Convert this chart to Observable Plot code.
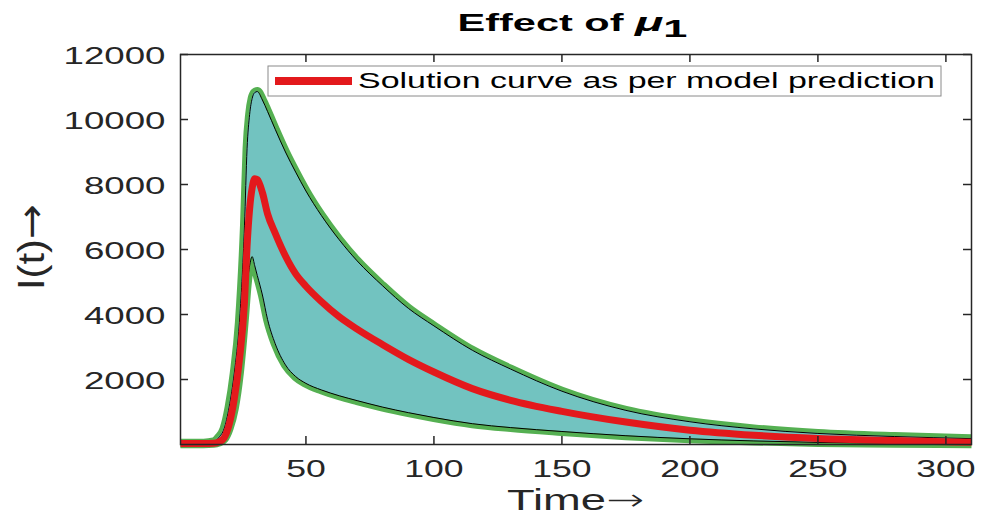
<!DOCTYPE html>
<html><head><meta charset="utf-8">
<script src="https://cdn.jsdelivr.net/npm/d3@7"></script>
<script src="https://cdn.jsdelivr.net/npm/@observablehq/plot@0.6"></script>
<style>body{margin:0;background:#fff;} svg{display:block}</style>
</head><body><div id="chart"></div>
<script>
// ---- data ----
const time = [1, 10, 14, 16, 18, 20, 22, 24, 26, 27, 28, 29, 30, 31, 33, 35, 38, 42, 46, 50, 56, 63, 70, 80, 90, 100, 115, 130, 150, 175, 200, 225, 250, 280, 310];
const upperBound = [40, 40, 80, 220, 480, 1150, 2200, 3750, 6750, 9100, 10150, 10650, 10830, 10860, 10600, 10250, 9700, 9000, 8380, 7800, 7050, 6300, 5650, 4880, 4190, 3650, 2900, 2320, 1640, 1050, 700, 480, 340, 245, 180];
const modelSolution = [30, 30, 40, 80, 200, 620, 1400, 2600, 4400, 6100, 7250, 7900, 8180, 8150, 7750, 7100, 6500, 5800, 5250, 4870, 4400, 3930, 3550, 3070, 2620, 2230, 1720, 1360, 1020, 690, 440, 285, 185, 120, 70];
const lowerBound = [25, 25, 35, 70, 170, 500, 1100, 2200, 3900, 4900, 5500, 5780, 5500, 5200, 4600, 3850, 3100, 2450, 2090, 1880, 1680, 1500, 1350, 1150, 980, 830, 640, 520, 400, 270, 175, 110, 65, 40, 20];
const xTicks = [50, 100, 150, 200, 250, 300];
const yTicks = [2000, 4000, 6000, 8000, 10000, 12000];
const xDomain = [1, 310];
const yDomain = [0, 12000];
const titleText = "Effect of ";
const titleSymbol = "\u03BC";
const titleSub = "1";
const xLabel = "Time";
const yLabel = "I(t)";
const arrow = "\u2192";
const legendLabel = "Solution curve as per model prediction";

const data = time.map((t, i) => ({t, upper: upperBound[i], mid: modelSolution[i], lower: lowerBound[i]}));

const W = 990, H = 518, mL = 180, mR = 19, mT = 54, mB = 74;
const plotH = H - mT - mB, plotW = W - mL - mR;
const axisColor = "#262626";
const green = "#55B052", teal = "#72C3C0", red = "#E3191C";
const tick = 8;

const plot = Plot.plot({
  width: W, height: H,
  marginLeft: mL, marginRight: mR, marginTop: mT, marginBottom: mB,
  style: {fontFamily: "'Liberation Sans', Arial, sans-serif", color: axisColor, background: "white"},
  x: {domain: xDomain},
  y: {domain: yDomain},
  marks: [
    Plot.line(data, {x: "t", y: "upper", stroke: green, strokeWidth: 9, curve: "monotone-x", strokeLinecap: "butt"}),
    Plot.line(data, {x: "t", y: "lower", stroke: green, strokeWidth: 9, curve: "monotone-x", strokeLinecap: "butt"}),
    Plot.areaY(data, {x: "t", y1: "lower", y2: "upper", fill: teal, curve: "monotone-x"}),
    Plot.line(data, {x: "t", y: "upper", stroke: "black", strokeWidth: 1, curve: "monotone-x"}),
    Plot.line(data, {x: "t", y: "lower", stroke: "black", strokeWidth: 1, curve: "monotone-x"}),
    Plot.line(data, {x: "t", y: "mid", stroke: red, strokeWidth: 7, curve: "monotone-x", strokeLinecap: "butt"}),
    Plot.tickX(xTicks, {x: d => d, insetTop: plotH - tick, stroke: axisColor, strokeWidth: 1.5}),
    Plot.tickX(xTicks, {x: d => d, insetBottom: plotH - tick, stroke: axisColor, strokeWidth: 1.5}),
    Plot.tickY(yTicks, {y: d => d, insetRight: plotW - tick, stroke: axisColor, strokeWidth: 1.5}),
    Plot.tickY(yTicks, {y: d => d, insetLeft: plotW - tick, stroke: axisColor, strokeWidth: 1.5}),
    Plot.frame({stroke: axisColor, strokeWidth: 1.5}),
    Plot.axisX(xTicks, {anchor: "bottom", tickSize: 0, tickPadding: 15, fontSize: 24, label: null, tickFormat: d => String(d)}),
    Plot.axisY(yTicks, {anchor: "left", tickSize: 0, tickPadding: 15, fontSize: 24, label: null, tickFormat: d => String(d), dy: 2})
  ]
});
document.getElementById("chart").appendChild(plot);

const svg = d3.select(plot);
function stretch(sel, perChar) {
  sel.each(function() {
    const s = this.textContent;
    this.setAttribute("textLength", s.length * perChar);
    this.setAttribute("lengthAdjust", "spacingAndGlyphs");
  });
}
stretch(svg.selectAll('g[aria-label="y-axis tick label"] text'), 20.4);
stretch(svg.selectAll('g[aria-label="x-axis tick label"] text'), 19.8);

const font = "'Liberation Sans', Arial, sans-serif";
const arrowFont = "'DejaVu Sans', sans-serif";
// title
const title = svg.append("text")
  .attr("x", (mL + W - mR) / 2 - 3).attr("y", 31)
  .attr("text-anchor", "middle")
  .attr("font-family", font).attr("font-weight", "bold").attr("font-size", 23)
  .attr("fill", "black")
  .attr("textLength", 230).attr("lengthAdjust", "spacingAndGlyphs");
title.append("tspan").text(titleText);
title.append("tspan").attr("font-style", "italic").attr("font-size", 26).text(titleSymbol);
title.append("tspan").attr("font-size", 24).attr("dy", 6).text(titleSub);

// x label
const xl = svg.append("text")
  .attr("x", (mL + W - mR) / 2).attr("y", 510)
  .attr("text-anchor", "middle")
  .attr("font-family", font).attr("font-size", 30).attr("fill", axisColor)
  .attr("textLength", 137).attr("lengthAdjust", "spacingAndGlyphs");
xl.append("tspan").text(xLabel);
xl.append("tspan").attr("font-family", arrowFont).attr("font-weight", "200").text(arrow);

// y label (rotated, stretched horizontally like the reference)
const yl = svg.append("text")
  .attr("transform", `translate(44,${mT + plotH / 2 - 2}) scale(1.4,1) rotate(-90)`)
  .attr("text-anchor", "middle")
  .attr("font-family", font).attr("font-size", 27).attr("fill", axisColor)
  .attr("textLength", 86).attr("lengthAdjust", "spacingAndGlyphs");
yl.append("tspan").text(yLabel);
yl.append("tspan").attr("font-family", arrowFont).text(arrow);

// legend
const lg = svg.append("g");
lg.append("rect").attr("x", 268).attr("y", 66).attr("width", 673).attr("height", 30)
  .attr("fill", "white").attr("stroke", "#8a8a8a").attr("stroke-width", 1);
lg.append("line").attr("x1", 275).attr("x2", 352).attr("y1", 81).attr("y2", 81)
  .attr("stroke", red).attr("stroke-width", 8);
lg.append("text").attr("x", 358).attr("y", 88)
  .attr("text-anchor", "start")
  .attr("font-family", font).attr("font-size", 22).attr("fill", "black")
  .attr("textLength", 577).attr("lengthAdjust", "spacingAndGlyphs")
  .text(legendLabel);
</script>
</body></html>
